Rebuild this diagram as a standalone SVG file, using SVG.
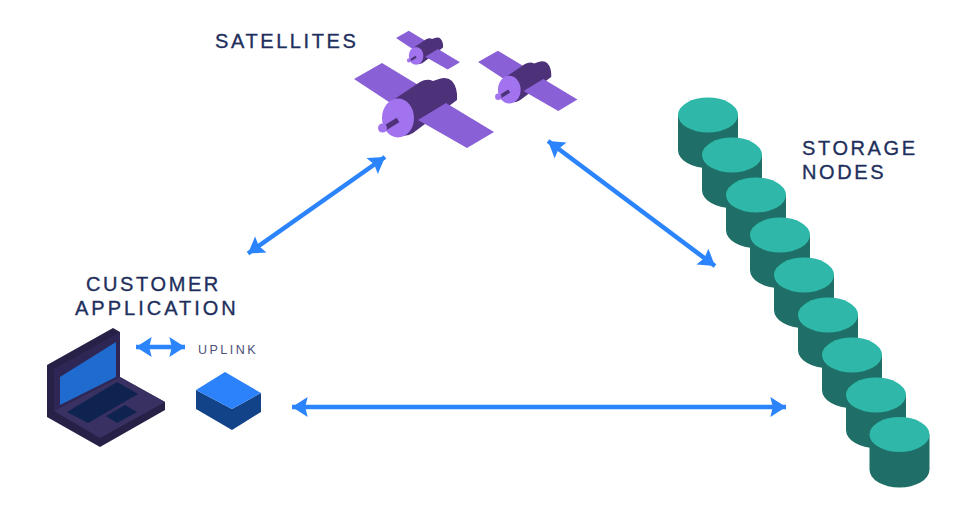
<svg xmlns="http://www.w3.org/2000/svg" width="972" height="512" viewBox="0 0 972 512">
<style>
.lbl{font-family:"Liberation Sans",Arial,sans-serif;font-size:20px;letter-spacing:2.600px;fill:#1f2f5c;stroke:#1f2f5c;stroke-width:.35px}
.conn{fill:none;stroke:#2b84fb;stroke-width:4.500;marker-start:url(#ah);marker-end:url(#ah)}
.panel{fill:#8a60d6}.sbody{fill:#4e3279}.dish{fill:#a273ee}
.cside{fill:#1f6f68}.ctop{fill:#2fb8a9}
</style>
<defs>
<marker id="ah" viewBox="0 0 12 12" refX="11" refY="6" markerWidth="4.400" markerHeight="4.400" orient="auto-start-reverse" markerUnits="strokeWidth">
<path d="M1.500 0L11 6L1.500 12L3 6Z" fill="#2b84fb"/>
</marker>
<g id="sat">
<path class="panel" d="M354 79L382 63L420 86L392 104Z"/>
<path class="sbody" d="M393 100L420 82Q427 78 433 81L439 79Q447 76 452 81Q458 88 457 100L413 133Q405 138 398 134Z"/>
<path class="panel" d="M418 120L446 103L494 132L467 148Z"/>
<ellipse class="dish" cx="398" cy="118" rx="16" ry="19.500"/>
<path d="M385 128L398 120" stroke="#4e3279" stroke-width="5" fill="none"/>
<circle class="dish" cx="382.500" cy="128" r="4.500"/>
</g>
<g id="cyl">
<path class="cside" d="M-30 0V35A30 18 0 0 0 30 35V0Z"/>
<ellipse class="ctop" cx="0" cy="0" rx="30" ry="17.500"/>
</g>
</defs>
<g id="connectors">
<line class="conn" x1="248" y1="253.500" x2="385" y2="157"/>
<line class="conn" x1="548" y1="141" x2="715" y2="266"/>
<line class="conn" x1="292" y1="407" x2="786" y2="407"/>
<line class="conn" x1="136" y1="347" x2="185" y2="347"/>
</g>
<g id="satellites">
<use href="#sat" transform="translate(234.200 1.900) scale(.457)"/>
<use href="#sat" transform="translate(226.700 5.900) scale(.71)"/>
<use href="#sat"/>
<text class="lbl" x="215" y="48">SATELLITES</text>
</g>
<g id="storage-nodes">
<use href="#cyl" x="708" y="115"/>
<use href="#cyl" x="732" y="155"/>
<use href="#cyl" x="756" y="195"/>
<use href="#cyl" x="780" y="235"/>
<use href="#cyl" x="804" y="275"/>
<use href="#cyl" x="828" y="315"/>
<use href="#cyl" x="852" y="355"/>
<use href="#cyl" x="876" y="395"/>
<use href="#cyl" x="899.500" y="434.500"/>
<text class="lbl" x="802" y="155">STORAGE</text>
<text class="lbl" x="802" y="179">NODES</text>
</g>
<g id="customer-application">
<text class="lbl" x="86" y="291">CUSTOMER</text>
<text class="lbl" x="75" y="315" style="letter-spacing:3px">APPLICATION</text>
<path fill="#272047" d="M47 365L113 328L120 332V377L165 402V410L100 447L47 417Z"/>
<path fill="#2e2755" d="M54 369L120 332V377L54 412Z"/>
<path fill="#3a3163" d="M54 411L120 377L165 402L100 438Z"/>
<path fill="#1f6bd0" d="M60 377L116 342V377L60 405Z"/>
<path fill="#0f2350" d="M67 412L117 382L138 394L88 423Z"/>
<path fill="#0f2350" d="M106 416L125 405L137 412L117 423Z"/>
</g>
<g id="uplink">
<text x="198" y="354" font-family="Liberation Sans, Arial, sans-serif" font-size="12.500" letter-spacing="2.500" fill="#4a4f78">UPLINK</text>
<path fill="#124287" d="M196 390L232 409L261 393V412L232 430L196 409Z"/>
<path fill="#2b82fa" d="M196 390L225 372L261 393L232 409Z"/>
</g>
</svg>
